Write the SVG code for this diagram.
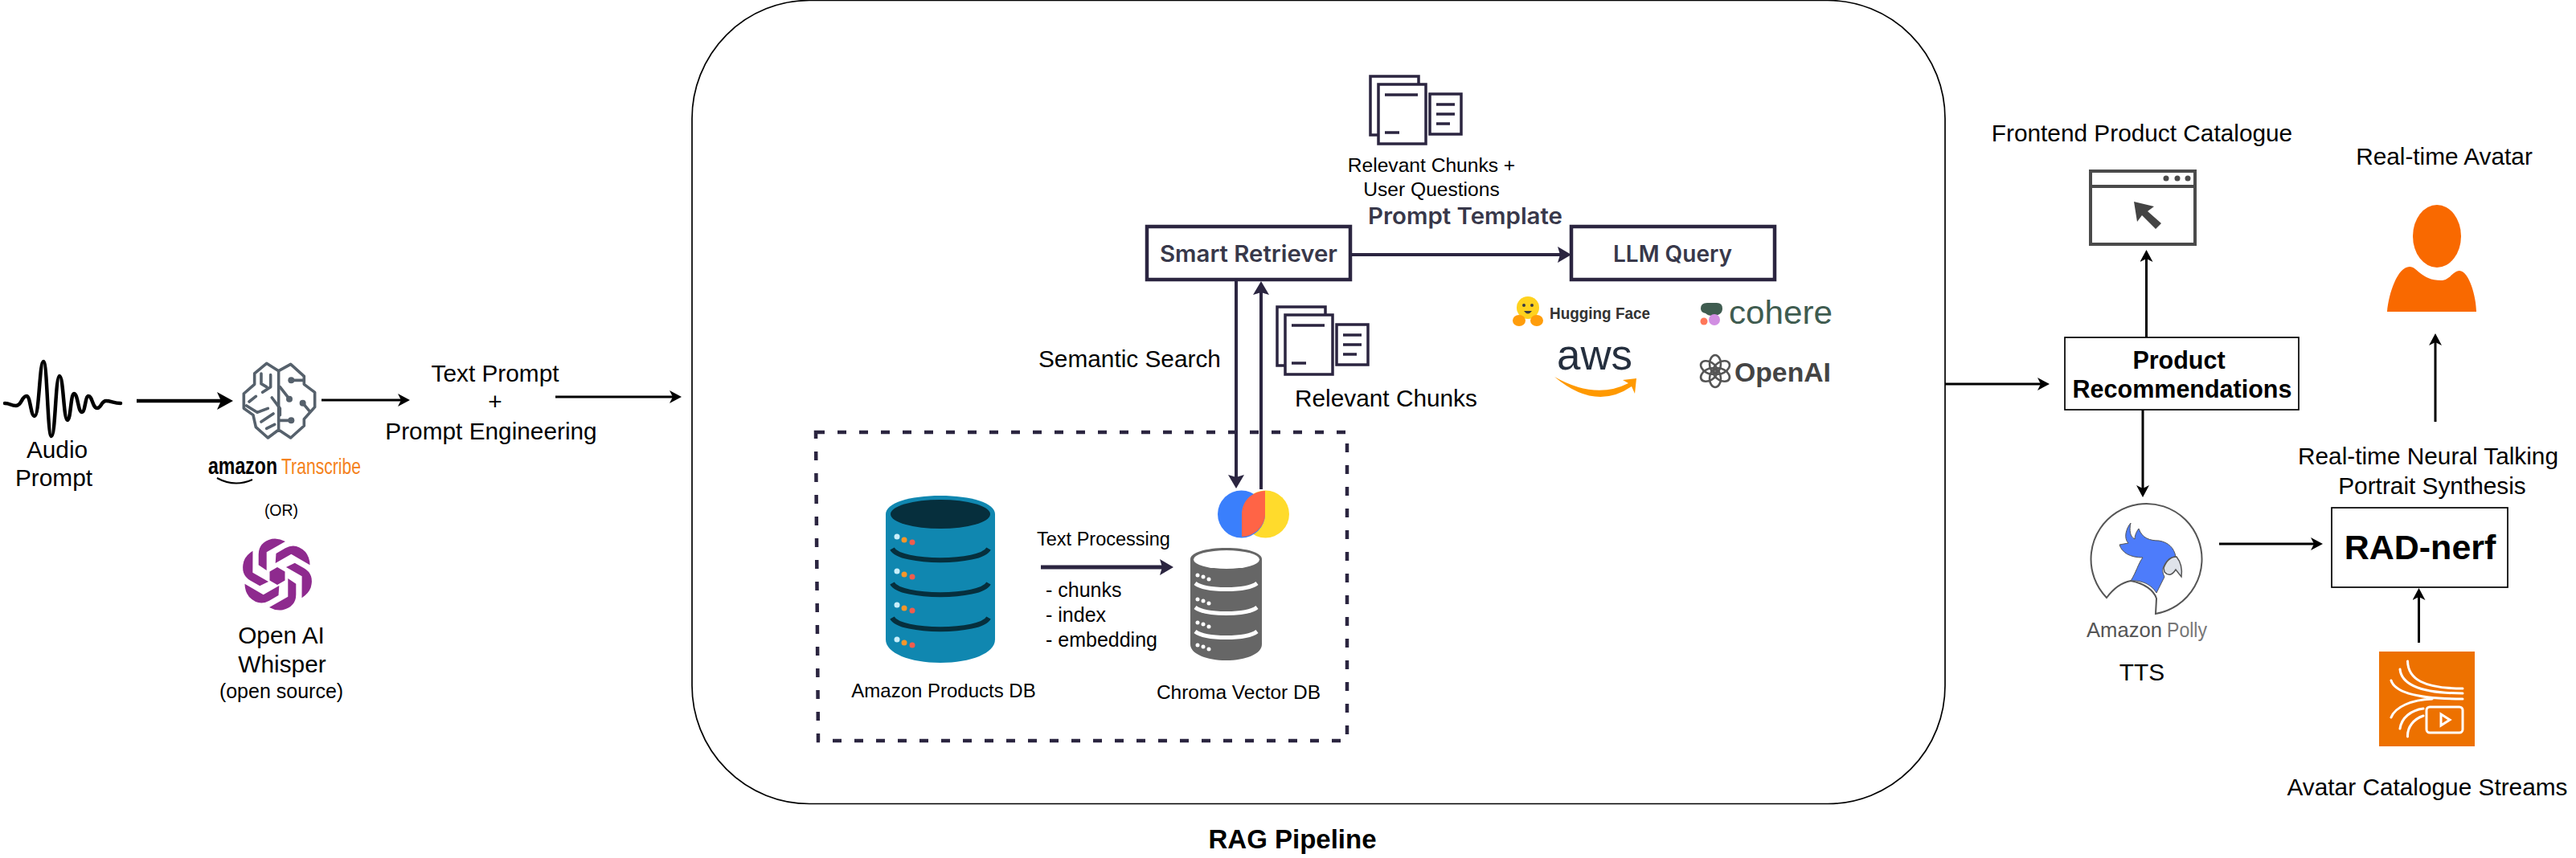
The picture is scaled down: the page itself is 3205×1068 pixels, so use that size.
<svg xmlns="http://www.w3.org/2000/svg" width="3205" height="1068" viewBox="0 0 3205 1068">
<style>
text{font-family:"Liberation Sans",Arial,sans-serif;fill:#000}
.m{text-anchor:middle}
.t30{font-size:29.8px}
.t25{font-size:24.6px}
.b{font-weight:700}
.ui{font-family:"Inter","Open Sans",sans-serif;font-weight:600;fill:#38384a;font-size:28px}
.ln{fill:none;stroke:#000;stroke-width:3}
.nv{fill:none;stroke:#2b2540;stroke-width:4}
.doc{fill:#fff;stroke:#2b2540;stroke-width:3.5}
.docl{fill:none;stroke:#2b2540;stroke-width:3.5}
.box{fill:#fff;stroke:#000;stroke-width:1.7}
.nbox{fill:#fff;stroke:#2b2540;stroke-width:4.5}
.wh{fill:#fff}
.whl{fill:none;stroke:#fff;stroke-width:3;stroke-linecap:round}
.br{fill:none;stroke:#56616c;stroke-width:10.8;stroke-linejoin:round;stroke-linecap:round}
.d1{fill:#c8eefa}.d2{fill:#f5962a}.d3{fill:#ef5d4e}
.band{fill:none;stroke:#062f3d;stroke-width:6}
.wband{fill:none;stroke:#fff;stroke-width:5}
</style>
<defs>
<marker id="big" markerUnits="userSpaceOnUse" markerWidth="20" markerHeight="22" viewBox="0 0 20 22" refX="6" refY="11" orient="auto"><path d="M20 11L0 0L5 11L0 22Z" fill="#000"/></marker>
<marker id="sm" markerUnits="userSpaceOnUse" markerWidth="15" markerHeight="16" viewBox="0 0 15 16" refX="5" refY="8" orient="auto"><path d="M15 8L0 0L4 8L0 16Z" fill="#000"/></marker>
<marker id="nav" markerUnits="userSpaceOnUse" markerWidth="17" markerHeight="20" viewBox="0 0 17 20" refX="5" refY="10" orient="auto"><path d="M17 10L0 0L3 10L0 20Z" fill="#2b2540"/></marker>
<path id="petal" d="M-23.3-11.7V-25Q-23.3-40-6.7-44.3Q1.7-45.7 10-41L-13.3-27.7V-5Z" fill="#8e2a8e"/>
<g id="docs">
<rect class="doc" x="1705" y="95" width="60" height="73"/>
<rect class="doc" x="1715" y="105" width="59" height="74"/>
<rect class="doc" x="1779" y="117" width="39" height="50"/>
<path class="docl" d="M1723 118H1764M1723 165H1741M1787 130H1810M1787 142H1810M1787 154H1804"/>
</g>
</defs>
<rect width="3205" height="1068" fill="#fff"/>

<g id="rag-pipeline">
<rect x="861" y="0.5" width="1559" height="1000" rx="146" ry="147" fill="none" stroke="#000" stroke-width="1.7"/>
<text class="m b" x="1608" y="1056" font-size="33">RAG Pipeline</text>
</g>
<g id="db-group">
<path d="M1015 538H1676V922H1018Z" fill="none" stroke="#2b2540" stroke-width="4.5" stroke-dasharray="11 16"/>
</g>

<g id="audio-prompt">
<path d="M6 502C13 502 13 505 20 505C27 505 27 493 33 493C38 493 38 518 43 518C49 518 49 450 54 450C59 450 59 543 64 543C69 543 69 468 74 468C79 468 79 523 84 523C88 523 88 490 92 490C97 490 97 513 102 513C106 513 106 493 110 493C115 493 115 508 121 508C126 508 126 499 132 499C138 499 142 502 150 502" fill="none" stroke="#000" stroke-width="4.5" stroke-linecap="round"/>
<text class="m t30" x="71" y="570">Audio</text>
<text class="m t30" x="67" y="605">Prompt</text>
</g>

<g id="amazon-transcribe">
<g transform="translate(290 445) scale(.3333)">
<path class="br" d="M170 50L125 22L80 60V100L40 135V190L75 215L85 260L130 300L170 270V50L215 25L265 70V100L305 130V185L265 230V255L215 300L170 270"/>
<path class="br" d="M105 60V98L125 110M140 65V110L110 130M60 165L85 145M50 180L90 205L130 190M145 150L175 190V215M105 240L150 210M125 265L155 250M217 85H265M210 155L175 110M260 170L285 200M217 235H170"/>
<circle cx="217" cy="85" r="12" fill="#56616c"/><circle cx="210" cy="155" r="12" fill="#56616c"/><circle cx="260" cy="170" r="12" fill="#56616c"/><circle cx="217" cy="235" r="12" fill="#56616c"/>
</g>
<text class="b" transform="translate(259 590) scale(1 1.3)" font-size="23" textLength="86" lengthAdjust="spacingAndGlyphs">amazon</text>
<text transform="translate(350 590) scale(1 1.35)" font-size="21" textLength="99" lengthAdjust="spacingAndGlyphs" style="fill:#f58220">Transcribe</text>
<path d="M270 595Q292 607 314 597" fill="none" stroke="#000" stroke-width="2"/>
<text class="m" x="350" y="642" font-size="19.5">(OR)</text>
</g>

<g id="whisper">
<g transform="translate(345 715)">
<use href="#petal"/><use href="#petal" transform="rotate(60)"/><use href="#petal" transform="rotate(120)"/><use href="#petal" transform="rotate(180)"/><use href="#petal" transform="rotate(240)"/><use href="#petal" transform="rotate(300)"/>
<path d="M0-9L9.5-3.5V7.5L0 13L-9.5 7.5V-3.5Z" fill="#8e2a8e"/>
</g>
<text class="m t30" x="350" y="801">Open AI</text>
<text class="m t30" x="351" y="837">Whisper</text>
<text class="m" x="350" y="869" font-size="25">(open source)</text>
</g>

<g id="text-prompt">
<text class="m t30" x="616" y="475">Text Prompt</text>
<text class="m t30" x="616" y="510">+</text>
<text class="m t30" x="611" y="547">Prompt Engineering</text>
</g>

<g id="chunks-user-questions">
<use href="#docs"/>
<text class="m t25" x="1781" y="214">Relevant Chunks +</text>
<text class="m t25" x="1781" y="244">User Questions</text>
</g>
<text id="prompt-template" class="ui" x="1702" y="279" textLength="242" lengthAdjust="spacingAndGlyphs">Prompt Template</text>

<g id="smart-retriever">
<rect class="nbox" x="1427" y="282" width="253" height="66"/>
<text class="ui" x="1443" y="326" textLength="221" lengthAdjust="spacingAndGlyphs">Smart Retriever</text>
</g>
<g id="llm-query">
<rect class="nbox" x="1955" y="282" width="253" height="66"/>
<text class="ui" x="2007" y="326" textLength="148" lengthAdjust="spacingAndGlyphs">LLM Query</text>
</g>

<g id="hugging-face">
<circle cx="1901" cy="383" r="14" fill="#ffd21e"/>
<ellipse cx="1890" cy="399" rx="8" ry="7" fill="#ff9d0b"/><ellipse cx="1912" cy="399" rx="8" ry="7" fill="#ff9d0b"/>
<circle cx="1896" cy="380" r="2" fill="#3a3b45"/><circle cx="1906" cy="380" r="2" fill="#3a3b45"/>
<path d="M1896 387Q1901 394 1906 387Z" fill="#3a3b45"/>
<text class="b" x="1928" y="397" font-size="21" textLength="125" lengthAdjust="spacingAndGlyphs" style="fill:#333">Hugging Face</text>
</g>
<g id="cohere">
<path d="M2116 384Q2116 377 2124 377H2136Q2143 377 2143 384Q2143 393 2130 393Q2125 393 2122 390Q2116 389 2116 384Z" fill="#3f5c50"/>
<circle cx="2120" cy="400" r="4.5" fill="#ff7759"/><circle cx="2133" cy="398" r="7" fill="#d18ee2"/>
<text x="2151" y="403" font-size="40" textLength="129" lengthAdjust="spacingAndGlyphs" style="fill:#3f5c50">cohere</text>
</g>
<g id="aws">
<text x="1937" y="460" font-size="54" textLength="94" lengthAdjust="spacingAndGlyphs" style="fill:#252f3e">aws</text>
<path d="M1934 469Q1985 498 2026 477L2019 473L2036 471L2034 490L2030 481Q1985 512 1934 469Z" fill="#f90"/>
</g>
<g id="openai">
<g transform="translate(2134 462)" fill="none" stroke="#555" stroke-width="2.6">
<ellipse cy="-9" rx="7" ry="11"/><ellipse cy="-9" rx="7" ry="11" transform="rotate(60)"/><ellipse cy="-9" rx="7" ry="11" transform="rotate(120)"/><ellipse cy="-9" rx="7" ry="11" transform="rotate(180)"/><ellipse cy="-9" rx="7" ry="11" transform="rotate(240)"/><ellipse cy="-9" rx="7" ry="11" transform="rotate(300)"/>
</g>
<text class="b" x="2158" y="475" font-size="33" textLength="120" lengthAdjust="spacingAndGlyphs" style="fill:#444">OpenAI</text>
</g>

<text id="semantic-search" class="t30" x="1292" y="457">Semantic Search</text>
<g id="relevant-chunks">
<use href="#docs" transform="translate(-116 287)"/>
<text class="t30" x="1611" y="506">Relevant Chunks</text>
</g>

<g id="chroma-logo">
<circle cx="1574.5" cy="640" r="29.5" fill="#ffdb2c"/>
<circle cx="1544.5" cy="640" r="29.5" fill="#3a7ffc"/>
<path d="M1574 611C1556 612 1545 625 1545 640V668C1560 668 1574 655 1574 640Z" fill="#ff6446"/>
</g>

<g id="amazon-products-db">
<path d="M1102 640C1102 626 1132 617 1170 617S1238 626 1238 640V796C1238 813 1208 825 1170 825S1102 813 1102 796Z" fill="#1087b0"/>
<ellipse cx="1170" cy="640" rx="62" ry="18" fill="#062f3d"/>
<path class="band" d="M1110 683C1120 702 1220 702 1230 683M1110 726C1120 745 1220 745 1230 726M1110 769C1120 788 1220 788 1230 769"/>
<g id="db-dots">
<circle class="d1" cx="1116" cy="668" r="3.5"/><circle class="d2" cx="1125" cy="672" r="3.5"/><circle class="d3" cx="1135" cy="675" r="3.5"/>
<circle class="d1" cx="1116" cy="711" r="3.5"/><circle class="d2" cx="1125" cy="715" r="3.5"/><circle class="d3" cx="1135" cy="718" r="3.5"/>
<circle class="d1" cx="1116" cy="753" r="3.5"/><circle class="d2" cx="1125" cy="757" r="3.5"/><circle class="d3" cx="1135" cy="760" r="3.5"/>
<circle class="d1" cx="1116" cy="796" r="3.5"/><circle class="d2" cx="1125" cy="800" r="3.5"/><circle class="d3" cx="1135" cy="803" r="3.5"/>
</g>
<text class="m" x="1174" y="868" font-size="24">Amazon Products DB</text>
</g>

<g id="text-processing">
<text x="1290" y="679" font-size="23.5">Text Processing</text>
<text x="1301" y="743" font-size="25">- chunks</text>
<text x="1301" y="774" font-size="25">- index</text>
<text x="1301" y="805" font-size="25">- embedding</text>
</g>

<g id="chroma-vector-db">
<path d="M1481 696C1481 688 1500 682 1525.5 682S1570 688 1570 696V802C1570 814 1550 822 1525.5 822S1481 814 1481 802Z" fill="#666"/>
<ellipse class="wh" cx="1526" cy="696.5" rx="41" ry="11.5"/>
<path class="wband" d="M1487 726C1500 736 1551 736 1564 726M1487 756C1500 766 1551 766 1564 756M1487 786C1500 796 1551 796 1564 786"/>
<g fill="#fff">
<circle cx="1490" cy="716" r="2.5"/><circle cx="1497" cy="718" r="2.5"/><circle cx="1504" cy="721" r="2.5"/>
<circle cx="1490" cy="746" r="2.5"/><circle cx="1497" cy="748" r="2.5"/><circle cx="1504" cy="751" r="2.5"/>
<circle cx="1490" cy="775" r="2.5"/><circle cx="1497" cy="777" r="2.5"/><circle cx="1504" cy="780" r="2.5"/>
<circle cx="1490" cy="803" r="2.5"/><circle cx="1497" cy="805" r="2.5"/><circle cx="1504" cy="808" r="2.5"/>
</g>
<text class="m" x="1541" y="870" font-size="24.5">Chroma Vector DB</text>
</g>

<g id="frontend-product-catalogue">
<text class="m t30" x="2665" y="176">Frontend Product Catalogue</text>
<rect x="2601" y="213" width="130" height="91" fill="#fff" stroke="#4a4a4a" stroke-width="4"/>
<path d="M2601 232H2731" stroke="#4a4a4a" stroke-width="4"/>
<circle cx="2695" cy="222" r="3.5" fill="#4a4a4a"/><circle cx="2709" cy="222" r="3.5" fill="#4a4a4a"/><circle cx="2722" cy="222" r="3.5" fill="#4a4a4a"/>
<path d="M2655 251L2680 257L2672 263L2689 278L2682 285L2665 268L2659 276Z" fill="#444"/>
</g>

<g id="real-time-avatar">
<text class="m t30" x="3041" y="205">Real-time Avatar</text>
<ellipse cx="3032" cy="294" rx="30" ry="39" fill="#f96900"/>
<path d="M2970 388C2972 365 2983 332 2998 332C3008 332 3012 349 3037 349C3048 349 3052 337 3060 337C3072 337 3081 370 3081 388Z" fill="#f96900"/>
</g>

<g id="product-recommendations">
<rect class="box" x="2569" y="420" width="291" height="90"/>
<text class="m b" x="2711" y="459" font-size="30.5">Product</text>
<text class="m b" x="2715" y="495" font-size="30.5">Recommendations</text>
</g>

<g id="amazon-polly">
<path d="M2621 744A69 69 0 1 1 2682 764L2683 745C2680 735 2668 726 2651 723C2640 725 2630 732 2621 744Z" fill="#fff" stroke="#555" stroke-width="2"/>
<path d="M2651 651C2645 658 2642 670 2648 676L2637 678C2640 688 2650 694 2666 694C2660 702 2658 712 2651 723C2660 722 2675 725 2683 738L2693 718C2690 712 2690 708 2693 703C2697 695 2703 693 2707 693C2705 682 2698 675 2686 673C2675 673 2665 670 2661 658C2657 663 2656 668 2656 671C2650 668 2649 660 2651 651Z" fill="#4d7cfb" stroke="#555" stroke-width="1"/>
<path d="M2692 707Q2697 693 2708 693Q2716 703 2714 718L2707 709Q2700 720 2693 712Z" fill="#dfe3ea" stroke="#555" stroke-width="1.5"/>
<text x="2596" y="793" font-size="25" style="fill:#555" textLength="94" lengthAdjust="spacingAndGlyphs">Amazon</text>
<text x="2696" y="793" font-size="25" style="fill:#777" textLength="50" lengthAdjust="spacingAndGlyphs">Polly</text>
<text class="m t30" x="2665" y="847">TTS</text>
</g>

<g id="rad-nerf">
<text class="m t30" x="3021" y="578">Real-time Neural Talking</text>
<text class="m t30" x="3026" y="615">Portrait Synthesis</text>
<rect class="box" x="2901" y="632" width="219" height="99"/>
<text class="m b" x="3011" y="696" font-size="43">RAD-nerf</text>
</g>

<g id="avatar-catalogue-streams">
<rect x="2960" y="811" width="119" height="118" fill="#ed7100"/>
<path class="whl" d="M2995.5 823C2996 845 3015 857 3064 857M2986 833C2988 853 3015 863 3064 863M2975 847C2980 863 3010 870 3064 870M2975 893C2980 880 3000 871 3026 870M2986 907C2988 893 3000 884 3015 882M2995.5 917C2995 905 3003 895 3015 891"/>
<rect x="3019" y="880" width="45" height="32" rx="4" fill="none" stroke="#fff" stroke-width="3"/>
<path d="M3037 889L3048 896L3037 903Z" fill="none" stroke="#fff" stroke-width="3"/>
<text class="m t30" x="3020" y="990">Avatar Catalogue Streams</text>
</g>

<g id="connectors">
<path d="M170 499H276" fill="none" stroke="#000" stroke-width="4.5" marker-end="url(#big)"/>
<path class="ln" d="M400 498H500" marker-end="url(#sm)"/>
<path class="ln" d="M691 494H838" marker-end="url(#sm)"/>
<path class="ln" d="M2420 478H2540" marker-end="url(#sm)"/>
<path class="ln" d="M2670.5 420V321" marker-end="url(#sm)"/>
<path class="ln" d="M2666 510V609" marker-end="url(#sm)"/>
<path class="ln" d="M3030 525V425" marker-end="url(#sm)"/>
<path class="ln" d="M2761 677H2880" marker-end="url(#sm)"/>
<path class="ln" d="M3009.5 800V742" marker-end="url(#sm)"/>
<path class="nv" d="M1680 317H1943" marker-end="url(#nav)"/>
<path class="nv" d="M1538 348V596" marker-end="url(#nav)"/>
<path class="nv" d="M1569 609V362" marker-end="url(#nav)"/>
<path class="nv" d="M1295 706H1448" style="stroke-width:5" marker-end="url(#nav)"/>
</g>
</svg>
